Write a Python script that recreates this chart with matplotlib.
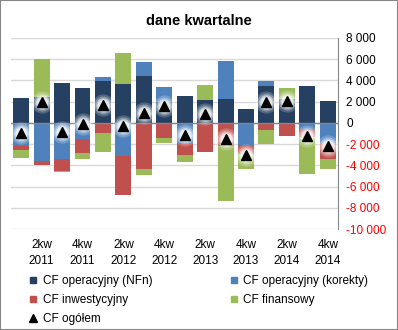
import matplotlib
import matplotlib.pyplot as plt
import numpy as np
from matplotlib.lines import Line2D
from matplotlib.patches import Rectangle
from matplotlib.ticker import FuncFormatter

matplotlib.use('Agg')

plt.rcParams['font.family'] = ['Liberation Sans', 'DejaVu Sans']

# ----------------------------------------- Data -----------------------------------------
quarters = ['1kw\n2011', '2kw\n2011', '3kw\n2011', '4kw\n2011',
            '1kw\n2012', '2kw\n2012', '3kw\n2012', '4kw\n2012',
            '1kw\n2013', '2kw\n2013', '3kw\n2013', '4kw\n2013',
            '1kw\n2014', '2kw\n2014', '3kw\n2014', '4kw\n2014']

cf_nfn = [2380, 2480, 3800, 3330, 3900, 3700, 4460, 1920,
          2550, 2170, 2260, 1320, 3490, 2290, 3490, 2100]
cf_korekty = [-2200, -3620, -3390, -1510, 440, -3150, 1320, 1480,
              -1920, 0, 3580, -2070, 470, 0, -660, -2010]
cf_inwest = [-310, -380, -1130, -1320, -1000, -3680, -4340, -1380,
             -1100, -2700, -2140, -880, -660, -1200, -630, -1360]
cf_finans = [-820, 3490, -100, -530, -1700, 2860, -530, -470,
             -660, 1410, -5190, -1360, -1320, 1010, -3520, -940]
cf_ogolem = [-950, 1970, -820, -150, 1640, -300, 910, 1550,
             -1100, 880, -1490, -2990, 1980, 2100, -1280, -2210]

series = [
    ('CF operacyjny (NFn)', cf_nfn, '#254061'),
    ('CF operacyjny (korekty)', cf_korekty, '#4F81BD'),
    ('CF inwestycyjny', cf_inwest, '#C0504D'),
    ('CF finansowy', cf_finans, '#9BBB59'),
]

# ----------------------------------------- Graphing -----------------------------------------
fig = plt.figure(figsize=(3.98, 3.30), dpi=100)
ax = fig.add_axes([0.0276, 0.306, 0.8216, 0.579])

x = np.arange(len(quarters))
pos_bottom = np.zeros(len(x))
neg_bottom = np.zeros(len(x))

# stack positives upward and negatives downward separately
for name, vals, color in series:
    vals = np.array(vals, dtype=float)
    pos = np.where(vals > 0, vals, 0)
    neg = np.where(vals < 0, vals, 0)
    ax.bar(x, pos, bottom=pos_bottom, width=0.78, color=color, zorder=2)
    ax.bar(x, neg, bottom=neg_bottom, width=0.78, color=color, zorder=2)
    pos_bottom += pos
    neg_bottom += neg

# soft halo under the total markers
for ms, a in [(16, 0.2), (13, 0.3), (10.5, 0.45), (8.5, 0.6)]:
    ax.plot(x, cf_ogolem, linestyle='none', marker='o', markersize=ms,
            color='white', alpha=a, markeredgewidth=0, zorder=3)
ax.plot(x, cf_ogolem, linestyle='none', marker='^', markersize=6.5,
        color='black', zorder=4)

ax.set_xlim(-0.5, len(x) - 0.5)
ax.set_ylim(-10000, 8000)
ax.set_yticks(np.arange(-10000, 8001, 2000))
ax.yaxis.tick_right()
ax.yaxis.set_major_formatter(FuncFormatter(lambda v, p: f'{int(v):,}'.replace(',', ' ')))
ax.tick_params(axis='y', length=0, pad=6, labelsize=8.5)
for lbl, v in zip(ax.get_yticklabels(), ax.get_yticks()):
    lbl.set_color('red' if v < 0 else 'black')

ax.set_xticks(x[1::2])
ax.set_xticklabels(quarters[1::2])
ax.tick_params(axis='x', length=0, pad=7, labelsize=8.5)
for lbl in ax.get_xticklabels():
    lbl.set_linespacing(1.45)

ax.grid(axis='y', color='#D9D9D9', linewidth=1, zorder=0)
ax.axhline(0, color='#868686', linewidth=1, zorder=2.5)
for side in ['top', 'left', 'bottom']:
    ax.spines[side].set_visible(False)
ax.spines['right'].set_color('#868686')

fig.text(0.5, 0.935, 'dane kwartalne', ha='center', va='center',
         fontsize=10.5, fontweight='bold')

# legend: 3 rows in first column, 2 in second
handles = [Line2D([], [], linestyle='none', marker='s', markersize=5, color=c)
           for _, _, c in series]
labels = [s[0] for s in series]
handles.append(Line2D([], [], linestyle='none', marker='^', markersize=6, color='black'))
labels.append('CF ogółem')
order = [0, 2, 4, 1, 3]
fig.legend([handles[i] for i in order], [labels[i] for i in order],
           loc='upper left', bbox_to_anchor=(0.075, 0.167), ncol=2, frameon=False,
           fontsize=8.5, handlelength=0.6, handletextpad=0.5, columnspacing=6.6,
           labelspacing=0.6, borderpad=0, borderaxespad=0)

fig.patches.append(Rectangle((0, 0), 1, 1, transform=fig.transFigure, fill=False,
                             edgecolor='#868686', linewidth=1.5))

plt.savefig('out.png', dpi=100)
